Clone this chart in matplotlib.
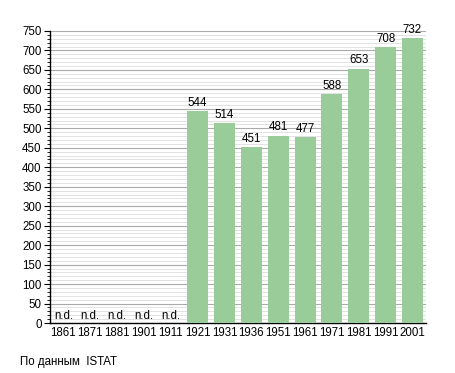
import matplotlib
matplotlib.use("Agg")
import matplotlib.pyplot as plt
from matplotlib.ticker import MultipleLocator

years = ["1861", "1871", "1881", "1901", "1911", "1921", "1931",
         "1936", "1951", "1961", "1971", "1981", "1991", "2001"]
population = [None, None, None, None, None, 544, 514, 451, 481, 477, 588, 653, 708, 732]
source = "По данным  ISTAT"

plt.rcParams["font.family"] = ["Liberation Sans", "DejaVu Sans"]
fs = 8.3

fig = plt.figure(figsize=(4.55, 3.73), dpi=100)
ax = fig.add_axes([0.110, 0.134, 0.826, 0.783])

xs = range(len(years))
for i, v in zip(xs, population):
    if v is None:
        ax.text(i, 3, "n.d.", ha="center", va="bottom", fontsize=fs)
    else:
        ax.bar(i, v, width=0.78, color="#99cc99", zorder=3)
        ax.text(i, v + 6, str(v), ha="center", va="bottom", fontsize=fs)

ax.set_xlim(-0.5, len(years) - 0.5)
ax.set_ylim(0, 750)
ax.set_xticks(list(xs))
ax.set_xticklabels(years)
ax.yaxis.set_major_locator(MultipleLocator(50))
ax.yaxis.set_minor_locator(MultipleLocator(10))
ax.grid(axis="y", which="major", color="#aaaaaa", lw=0.8, zorder=0)
ax.grid(axis="y", which="minor", color="#dddddd", lw=0.6, zorder=0)
ax.set_axisbelow(True)
for s in ["top", "right"]:
    ax.spines[s].set_visible(False)
ax.spines["left"].set_linewidth(1.0)
ax.spines["bottom"].set_linewidth(1.0)
ax.tick_params(axis="x", length=0, labelsize=fs, pad=3)
ax.tick_params(axis="y", which="major", length=4, labelsize=fs, pad=2)
ax.tick_params(axis="y", which="minor", length=2)

fig.text(20 / 455, 1 - 362 / 373, source, fontsize=fs, va="center")

fig.savefig("out.png", dpi=100)
